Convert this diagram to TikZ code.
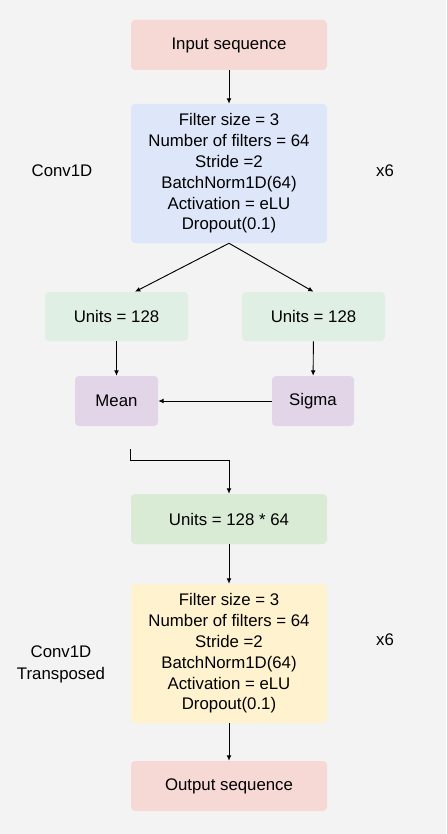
\documentclass[tikz,border=0pt]{standalone}
\usepackage{fontspec}
\setmainfont{Liberation Sans}
\usetikzlibrary{arrows.meta,positioning,calc}
\definecolor{cBack}{HTML}{F3F3F3}
\definecolor{cPink}{HTML}{F6D8D4}
\definecolor{cBlue}{HTML}{DDE7F9}
\definecolor{cMint}{HTML}{E0EFE3}
\definecolor{cLilac}{HTML}{E2D5E8}
\definecolor{cGreen}{HTML}{D9EAD5}
\definecolor{cCream}{HTML}{FFF2CF}

\begin{document}
\begin{tikzpicture}[
    x=0.75pt, y=-0.75pt,
    font=\fontsize{12.6}{15.6}\selectfont,
    >={Latex[length=4pt,width=3.6pt]},
    every node/.style={align=center},
    box/.style={rounded corners=3pt, inner sep=0pt, minimum width=147pt,
      minimum height=37.5pt},
    link/.style={->, line width=0.7pt},
]

% ---- canvas ----
\fill[cBack] (0,0) rectangle (446,834);

% ---- encoder ----
\node[box, fill=cPink] (inp) at (229,45) {Input sequence};

\node[box, fill=cBlue, minimum height=104.25pt] (conv) at (229,173.5)
      {Filter size = 3\\Number of filters = 64\\Stride =2\\BatchNorm1D(64)\\
      Activation = eLU\\Dropout(0.1)};
\node (convlbl) at (62,171) {Conv1D};
\node (convrep) at (385,171) {x6};

% ---- latent heads ----
\node[box, fill=cMint, minimum width=107.25pt, minimum height=36.75pt]
      (unitsL) at (116.5,316.5) {Units = 128};
\node[box, fill=cMint, minimum width=107.25pt, minimum height=36.75pt]
      (unitsR) at (313.5,316.5) {Units = 128};

\node[box, fill=cLilac, minimum width=62.25pt] (mean) at (116.5,401) {Mean};
\node[box, fill=cLilac, minimum width=61.5pt] (sigma) at (313,401) {Sigma};

\coordinate (zstart) at (130,449);

% ---- decoder ----
\node[box, fill=cGreen] (dense) at (229,519) {Units = 128 * 64};

\node[box, fill=cCream, minimum height=104.25pt] (deconv) at (229,653.5)
      {Filter size = 3\\Number of filters = 64\\Stride =2\\BatchNorm1D(64)\\
      Activation = eLU\\Dropout(0.1)};
\node[font=\fontsize{12.6}{16.5}\selectfont] (deconvlbl) at (61,664)
      {Conv1D\\Transposed};
\node (deconvrep) at (385,640) {x6};

\node[box, fill=cPink] (out) at (229,786) {Output sequence};

% ---- arrows ----
\draw[link] (inp) -- (conv);
\draw[link] (conv.south) -- ($(unitsL.north)+(18.5,0)$);
\draw[link] (conv.south) -- (unitsR.north);
\draw[link] (unitsL) -- (mean);
\draw[link] (unitsR) -- (sigma);
\draw[link] (sigma) -- (mean);
\draw[link] (zstart) |- ($(dense.north)+(0,-33)$) -- (dense.north);
\draw[link] (dense) -- (deconv);
\draw[link] (deconv) -- (out);

\end{tikzpicture}
\end{document}
